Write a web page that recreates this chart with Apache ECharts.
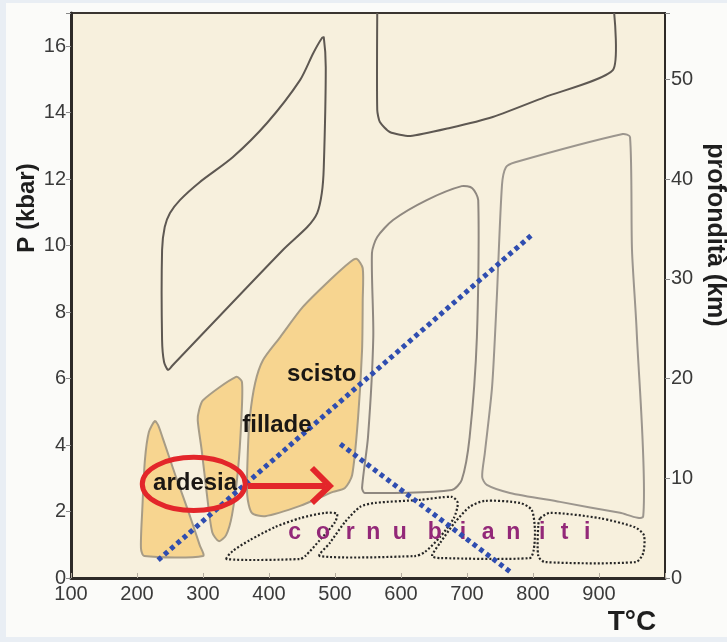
<!DOCTYPE html>
<html><head><meta charset="utf-8">
<script src="https://cdn.jsdelivr.net/npm/echarts@6/dist/echarts.min.js"></script>
<style>
html,body{margin:0;padding:0;background:#e9eef4;}
#bg{position:absolute;left:6px;top:3px;width:721px;height:634px;background:#fbfbf9;}
#chart{position:absolute;left:0;top:0;width:727px;height:642px;}
</style></head><body><div id="bg"></div><div id="chart"></div>
<script>
// Facies outlines, [T (°C), P (kbar)]
const blueschistZone = [[483,16.27],[486,15.37],[483,12.36],[480,11.58],[473,10.98],[458,10.56],[421,9.87],[253,6.38],[247,6.26],[241,6.50],[238,7.16],[238,9.87],[242,10.56],[250,10.98],[265,11.37],[295,11.91],[345,12.66],[397,13.69],[447,14.98],[467,15.79],[480,16.24]];
const eclogiteZone = [[564,17.0],[564,14.08],[568,13.72],[583,13.42],[614,13.30],[674,13.54],[739,13.87],[818,14.47],[921,15.28],[923,17.0]];
const amphiboliteZone = [[556,9.78],[564,10.26],[588,10.77],[639,11.37],[692,11.79],[708,11.73],[717,11.37],[715,7.25],[704,4.24],[692,2.95],[677,2.65],[545,2.56],[541,2.71],[550,4.24],[558,7.25]];
const granuliteZone = [[753,11.82],[759,12.36],[773,12.51],[936,13.36],[947,13.27],[950,9.87],[957,7.46],[967,1.86],[932,1.96],[841,2.29],[765,2.56],[730,2.80],[723,3.04],[727,3.76],[738,5.75],[745,8.36]];
// Rock fields (filled)
const ardesiaZone = [[227,4.72],[218,4.39],[212,3.55],[208,2.05],[206,0.90],[211,0.66],[300,0.66],[295,0.99],[277,2.05],[258,3.10],[239,4.21],[232,4.60]];
const filladeZone = [[294,5.05],[300,5.35],[350,6.05],[359,5.90],[358,4.75],[353,3.25],[344,1.90],[335,1.29],[324,1.11],[314,1.38],[306,2.50],[298,3.85],[292,4.75]];
const scistoZone = [[533,9.60],[542,9.32],[542,8.36],[541,6.86],[535,4.84],[526,3.10],[515,2.71],[497,2.59],[447,2.17],[394,1.86],[374,1.96],[367,2.50],[368,3.85],[371,4.84],[379,5.87],[391,6.56],[417,7.25],[451,8.15],[492,8.96],[523,9.51]];
// Contact metamorphism (cornubianiti) dotted fields
const hornfelsA = [[336,0.57],[345,0.81],[371,1.14],[409,1.53],[447,1.80],[485,1.96],[503,1.93],[500,1.68],[477,1.14],[455,0.66],[447,0.57]];
const hornfelsB = [[477,0.66],[492,1.05],[515,1.68],[538,2.14],[561,2.26],[629,2.35],[677,2.44],[686,2.26],[680,1.80],[659,1.23],[636,0.78],[621,0.66]];
const hornfelsC = [[647,0.66],[659,1.05],[682,1.68],[704,2.14],[727,2.32],[780,2.26],[798,2.05],[803,1.44],[801,0.84],[795,0.60],[659,0.60]];
const hornfelsD = [[811,1.80],[826,1.96],[901,1.80],[954,1.53],[968,1.29],[967,0.75],[956,0.48],[818,0.48],[808,0.66],[808,1.59]];
// Geothermal gradients (blue dotted)
const gradientHigh = [[232,0.54],[798,10.32]];
const gradientContact = [[508,4.03],[768,0.15]];
// Red arrow and ellipse
const arrowShaft = [[368,2.77],[486,2.77]];
const arrowHead = [[465,3.31],[492,2.77],[465,2.26]];
const ardesiaEllipse = {center:[286,2.83], radius:[78,0.80]};
// Labels
const rockLabelNames = ['scisto','fillade','ardesia'];
const rockLabelPos = [[480,6.14],[412,4.60],[288,2.86]];
const hornfelsLetters = ['c','o','r','n','u','b','i','a','n','i','t','i'];
const hornfelsLetterT = [439,482,523,558,598,651,694,732,770,814,848,882];
const hornfelsLetterP = 1.35;

const FONT = "'Liberation Sans', Arial, sans-serif";

function shapeSeries(points, opt) {
  return {
    type: 'custom', xAxisIndex: 0, yAxisIndex: 0, silent: true, z: opt.z || 2,
    data: points,
    renderItem: function (params, api) {
      if (params.dataIndex !== 0) return null;
      const pts = points.map(p => api.coord(p));
      return {
        type: opt.closed === false ? 'polyline' : 'polygon',
        shape: { points: pts, smooth: opt.smooth == null ? 0.25 : opt.smooth },
        style: { fill: opt.fill || 'none', stroke: opt.stroke, lineWidth: opt.lw || 2, lineDash: opt.dash || null, lineCap: opt.cap || 'butt' }
      };
    }
  };
}

function textSeries(names, positions, style, z) {
  return {
    type: 'custom', silent: true, z: z,
    data: positions,
    renderItem: function (params, api) {
      const c = api.coord(positions[params.dataIndex]);
      return {
        type: 'text', x: c[0], y: c[1],
        style: Object.assign({ text: names[params.dataIndex], align: 'center', verticalAlign: 'middle', fontFamily: FONT, fontWeight: 'bold' }, style)
      };
    }
  };
}

const chart = echarts.init(document.getElementById('chart'));
const series = [
  shapeSeries(ardesiaZone, {fill:'#f7d590', stroke:'#a79c86', lw:2}),
  shapeSeries(filladeZone, {fill:'#f7d590', stroke:'#a79c86', lw:2}),
  shapeSeries(scistoZone, {fill:'#f7d590', stroke:'#a79c86', lw:2}),
  shapeSeries(blueschistZone, {stroke:'#5e5852', lw:2}),
  shapeSeries(eclogiteZone, {stroke:'#5e5852', lw:2, closed:false, smooth:0.2}),
  shapeSeries(amphiboliteZone, {stroke:'#8f8880', lw:2}),
  shapeSeries(granuliteZone, {stroke:'#9c968e', lw:2}),
  shapeSeries(hornfelsA, {stroke:'#262626', lw:2.2, dash:[2,2]}),
  shapeSeries(hornfelsB, {stroke:'#262626', lw:2.2, dash:[2,2]}),
  shapeSeries(hornfelsC, {stroke:'#262626', lw:2.2, dash:[2,2]}),
  shapeSeries(hornfelsD, {stroke:'#262626', lw:2.2, dash:[2,2]}),
  textSeries(hornfelsLetters, hornfelsLetterT.map(t => [t, hornfelsLetterP]), {fontSize:23, fill:'#932878'}, 5),
  {
    type:'line', data: gradientHigh, symbol:'none', silent:true, z:6,
    lineStyle:{color:'#2f4db0', width:5, type:[4.5,3.8], cap:'butt'}
  },
  {
    type:'line', data: gradientContact, symbol:'none', silent:true, z:6,
    lineStyle:{color:'#2f4db0', width:5, type:[4.5,3.8], cap:'butt'}
  },
  {
    type:'line', data: arrowShaft, symbol:'none', silent:true, z:7,
    lineStyle:{color:'#e3262a', width:6, cap:'butt'}
  },
  {
    type:'line', data: arrowHead, symbol:'none', silent:true, z:7,
    lineStyle:{color:'#e3262a', width:6, cap:'butt', join:'miter'}
  },
  {
    type:'custom', silent:true, z:8, data:[ardesiaEllipse.center],
    renderItem: function (params, api) {
      const c = api.coord(ardesiaEllipse.center);
      const s = api.size(ardesiaEllipse.radius);
      return { type:'ellipse', shape:{cx:c[0], cy:c[1], rx:s[0], ry:s[1]}, style:{fill:'none', stroke:'#e3262a', lineWidth:5} };
    }
  },
  textSeries(rockLabelNames, rockLabelPos, {fontSize:24, fill:'#1a1714'}, 9)
];

chart.setOption({
  animation:false,
  backgroundColor:'transparent',
  grid:{left:71, right:62, top:13, bottom:64, show:true, backgroundColor:'#f7f0dd', borderColor:'#3a3530', borderWidth:2},
  xAxis:{
    type:'value', min:100, max:1000, interval:100,
    axisLine:{show:true, onZero:false, lineStyle:{color:'#2e2a27', width:3}},
    axisTick:{show:true, inside:true, length:5, lineStyle:{color:'#b5ada0'}},
    axisLabel:{fontFamily:FONT, fontSize:20, color:'#3a3a3a', margin:6, formatter:v => v >= 1000 ? '' : String(v)},
    splitLine:{show:false}
  },
  yAxis:[{
    type:'value', min:0, max:17, interval:2, position:'left',
    axisLine:{show:true, onZero:false, lineStyle:{color:'#2e2a27', width:3}},
    axisTick:{show:true, length:5, lineStyle:{color:'#888'}},
    axisLabel:{fontFamily:FONT, fontSize:20, color:'#3a3a3a', margin:5, formatter:v => v > 16.5 ? '' : String(v)},
    splitLine:{show:false}
  },{
    type:'value', min:0, max:56.667, interval:10, position:'right',
    axisLine:{show:true, lineStyle:{color:'#2e2a27', width:2}},
    axisTick:{show:true, length:5, lineStyle:{color:'#888'}},
    axisLabel:{fontFamily:FONT, fontSize:20, color:'#3a3a3a', margin:6, formatter:v => v > 55 ? '' : String(v)},
    splitLine:{show:false}
  }],
  graphic:[
    {type:'text', x:27, y:208, rotation:Math.PI/2, style:{text:'P (kbar)', fontFamily:FONT, fontWeight:'bold', fontSize:24, fill:'#1e1e1e', align:'center', verticalAlign:'middle'}},
    {type:'text', x:715, y:235, rotation:-Math.PI/2, style:{text:'profondità (km)', fontFamily:FONT, fontWeight:'bold', fontSize:25, fill:'#1e1e1e', align:'center', verticalAlign:'middle'}},
    {type:'text', x:632, y:622, style:{text:'T°C', fontFamily:FONT, fontWeight:'bold', fontSize:28, fill:'#1e1e1e', align:'center', verticalAlign:'middle'}}
  ],
  series: series
});
</script></body></html>
